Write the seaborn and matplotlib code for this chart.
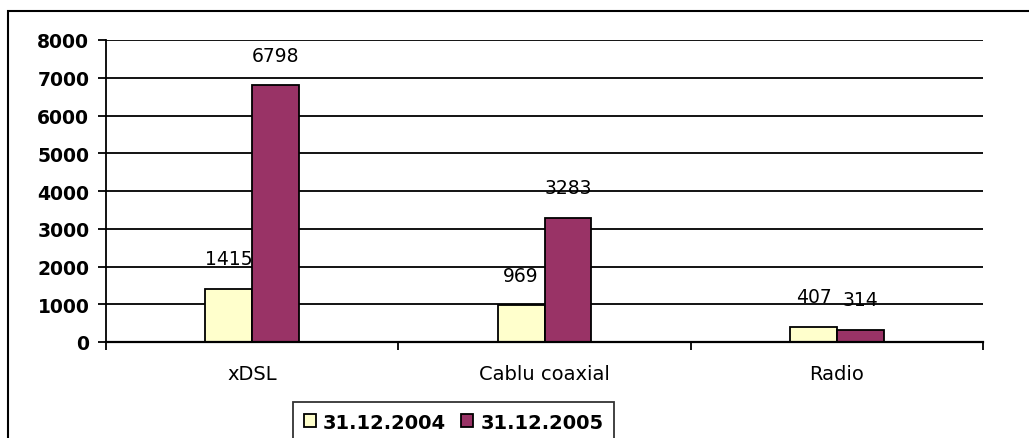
import pandas as pd
import seaborn as sns
import matplotlib.pyplot as plt
from matplotlib.patches import Rectangle

categories = ['xDSL', 'Cablu coaxial', 'Radio']
series = ['31.12.2004', '31.12.2005']
values_2004 = [1415, 969, 407]
values_2005 = [6798, 3283, 314]
y_ticks = [0, 1000, 2000, 3000, 4000, 5000, 6000, 7000, 8000]
colors = ['#FFFFCC', '#993366']


def main():
    sns.set_style('white')
    plt.rcParams['font.family'] = ['DejaVu Sans']
    plt.rcParams['text.color'] = 'black'
    plt.rcParams['xtick.color'] = 'black'
    plt.rcParams['ytick.color'] = 'black'

    df = pd.DataFrame({
        'category': categories * 2,
        'period': [series[0]] * 3 + [series[1]] * 3,
        'value': values_2004 + values_2005,
    })

    fig = plt.figure(figsize=(10.29, 4.39), dpi=100)
    ax = fig.add_axes([106 / 1029, 1 - 343 / 439, 877 / 1029, 302 / 439])

    sns.barplot(data=df, x='category', y='value', hue='period',
                palette=colors, saturation=1, width=0.32, edgecolor='black',
                linewidth=1.3, ax=ax, legend=True, errorbar=None)

    # labels above each bar
    for cont in ax.containers:
        ax.bar_label(cont, fmt='%d', padding=15, fontsize=13.5, color='black')

    ax.set_ylim(0, 8000)
    ax.set_xlim(-0.5, 2.5)
    ax.set_yticks(y_ticks)
    ax.yaxis.grid(True, color='black', linewidth=1.3)
    ax.set_axisbelow(True)
    ax.set_xlabel('')
    ax.set_ylabel('')

    for s in ['top', 'right']:
        ax.spines[s].set_visible(False)
    ax.spines['left'].set_color('black')
    ax.spines['left'].set_linewidth(1.3)
    ax.spines['bottom'].set_color('black')
    ax.spines['bottom'].set_linewidth(1.6)

    ax.tick_params(axis='y', left=True, direction='out', length=6,
                   width=1.3, colors='black', labelsize=13.5, pad=6)
    for lab in ax.get_yticklabels():
        lab.set_fontweight('bold')
    ax.tick_params(axis='x', which='major', bottom=True, length=0,
                   labelsize=14, labelcolor='black', pad=16)
    ax.set_xticks([-0.5, 0.5, 1.5, 2.5], minor=True)
    ax.tick_params(axis='x', which='minor', bottom=True, direction='out',
                   length=6, width=1.3, color='black')

    handles, labels = ax.get_legend_handles_labels()
    ax.legend_.remove()
    leg = fig.legend(handles, labels, loc='upper left',
                     bbox_to_anchor=(293 / 1029, 1 - 403 / 439), ncol=2,
                     frameon=True, fancybox=False, fontsize=14,
                     handlelength=0.65, handleheight=0.65,
                     handletextpad=0.35, columnspacing=0.75, borderpad=0.55,
                     borderaxespad=0)
    leg.get_frame().set_edgecolor('black')
    leg.get_frame().set_linewidth(1.3)
    for t in leg.get_texts():
        t.set_fontweight('bold')
        t.set_color('black')

    # outer chart border
    fig.patches.append(Rectangle((8 / 1029, -0.05), 1.1, 1.05 - 12 / 439,
                                 transform=fig.transFigure, fill=False,
                                 edgecolor='black', linewidth=1.5))

    fig.savefig('out.png', dpi=100)


if __name__ == '__main__':
    main()
